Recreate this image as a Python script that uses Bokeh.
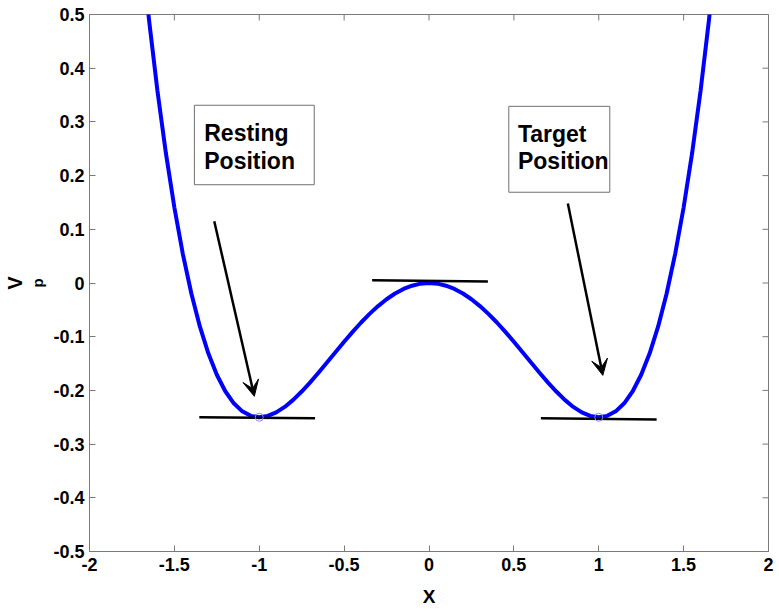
from bokeh.plotting import figure
from bokeh.models import (ColumnDataSource, FixedTicker, Arrow, VeeHead, LinearAxis)
from bokeh.core.properties import value
from bokeh.embed import file_html
from bokeh.resources import INLINE

FONT = "Liberation Sans"

# ---- data ----
curve_x = [-1.70, -1.65, -1.60, -1.55, -1.50, -1.45, -1.40, -1.35, -1.30, -1.25,
           -1.20, -1.15, -1.10, -1.05, -1.00, -0.95, -0.90, -0.85, -0.80, -0.75,
           -0.70, -0.65, -0.60, -0.55, -0.50, -0.45, -0.40, -0.35, -0.30, -0.25,
           -0.20, -0.15, -0.10, -0.05, 0.00, 0.05, 0.10, 0.15, 0.20, 0.25,
           0.30, 0.35, 0.40, 0.45, 0.50, 0.55, 0.60, 0.65, 0.70, 0.75,
           0.80, 0.85, 0.90, 0.95, 1.00, 1.05, 1.10, 1.15, 1.20, 1.25,
           1.30, 1.35, 1.40, 1.45, 1.50, 1.55, 1.60, 1.65, 1.70]
curve_v = [0.6430, 0.4918, 0.3584, 0.2418, 0.1406, 0.0539, -0.0196, -0.0809, -0.1310, -0.1709,
           -0.2016, -0.2240, -0.2390, -0.2474, -0.2500, -0.2476, -0.2410, -0.2308, -0.2176, -0.2021,
           -0.1850, -0.1666, -0.1476, -0.1284, -0.1094, -0.0910, -0.0736, -0.0575, -0.0430, -0.0303,
           -0.0196, -0.0111, -0.0050, -0.0012, 0.0000, -0.0012, -0.0050, -0.0111, -0.0196, -0.0303,
           -0.0430, -0.0575, -0.0736, -0.0910, -0.1094, -0.1284, -0.1476, -0.1666, -0.1850, -0.2021,
           -0.2176, -0.2308, -0.2410, -0.2476, -0.2500, -0.2474, -0.2390, -0.2240, -0.2016, -0.1709,
           -0.1310, -0.0809, -0.0196, 0.0539, 0.1406, 0.2418, 0.3584, 0.4918, 0.6430]

min_x = [-1.0, 1.0]
min_v = [-0.25, -0.25]

tan_x0 = [-1.353, -0.335, 0.659]
tan_y0 = [-0.250, 0.005, -0.252]
tan_x1 = [-0.671, 0.347, 1.341]
tan_y1 = [-0.252, 0.003, -0.254]

arrow_x0 = [-1.265, 0.818]
arrow_y0 = [0.115, 0.148]
arrow_x1 = [-1.029, 1.024]
arrow_y1 = [-0.211, -0.172]

box_left = [-1.382, 0.470]
box_right = [-0.676, 1.065]
box_top = [0.331, 0.329]
box_bottom = [0.183, 0.169]

note_text = ["Resting", "Position", "Target", "Position"]
note_x = [-1.324, -1.324, 0.524, 0.524]
note_y = [0.280, 0.228, 0.278, 0.228]

x_ticks = [-2, -1.5, -1, -0.5, 0, 0.5, 1, 1.5, 2]
x_tick_labels = ["-2", "-1.5", "-1", "-0.5", "0", "0.5", "1", "1.5", "2"]
y_ticks = [-0.5, -0.4, -0.3, -0.2, -0.1, 0, 0.1, 0.2, 0.3, 0.4, 0.5]
y_tick_labels = ["-0.5", "-0.4", "-0.3", "-0.2", "-0.1", "0", "0.1", "0.2", "0.3", "0.4", "0.5"]

X_MIN, X_MAX = -2, 2
Y_MIN, Y_MAX = -0.5, 0.5

# ---- figure ----
p = figure(width=779, height=614, x_range=(X_MIN, X_MAX), y_range=(Y_MIN, Y_MAX),
           output_backend="svg", toolbar_location=None,
           min_border_left=88, min_border_right=11, min_border_top=14,
           min_border_bottom=63)
p.grid.visible = False
AX = "#7a7a7a"
p.outline_line_color = AX
p.background_fill_color = "white"
p.border_fill_color = "white"

for ax in (p.xaxis[0], p.yaxis[0]):
    ax.axis_line_color = AX
    ax.major_tick_line_color = AX
    ax.minor_tick_line_color = None
    ax.major_tick_in = 6
    ax.major_tick_out = 0
    ax.major_label_text_font = FONT
    ax.major_label_text_font_style = "bold"
    ax.major_label_text_font_size = "18px"
    ax.major_label_text_color = "black"

p.xaxis.ticker = FixedTicker(ticks=x_ticks)
p.xaxis.major_label_overrides = dict(zip(x_ticks, x_tick_labels))
p.yaxis.ticker = FixedTicker(ticks=y_ticks)
p.yaxis.major_label_overrides = dict(zip(y_ticks, y_tick_labels))
p.xaxis.major_label_standoff = 6
p.yaxis.major_label_standoff = 5

p.xaxis.axis_label = "X"
p.xaxis.axis_label_text_font = FONT
p.xaxis.axis_label_text_font_style = "bold"
p.xaxis.axis_label_text_font_size = "19px"
p.xaxis.axis_label_text_color = "black"
p.xaxis.axis_label_standoff = 12


def title_axis(text, size, standoff, align):
    ax = LinearAxis(ticker=FixedTicker(ticks=[]), axis_label=text)
    ax.axis_line_color = None
    ax.major_tick_line_color = None
    ax.minor_tick_line_color = None
    ax.major_tick_in = 0
    ax.major_tick_out = 0
    ax.major_label_standoff = 0
    ax.axis_label_standoff = standoff
    ax.axis_label_text_font = FONT
    ax.axis_label_text_font_style = "bold"
    ax.axis_label_text_font_size = size
    ax.axis_label_text_color = "black"
    ax.axis_label_text_align = align
    return ax


# y axis title V_p: subscript p sits next to the tick labels (a bit higher), V further out
p.add_layout(title_axis("p", "15px", 5, "right"), "left")
p.add_layout(title_axis("V", "20px", 0, "left"), "left")

# inward ticks on the top and right edges of the box
tick_len_y = 6 / 537
tick_len_x = 6 / 170
p.segment(x0=x_ticks, y0=[Y_MAX] * len(x_ticks), x1=x_ticks,
          y1=[Y_MAX - tick_len_y] * len(x_ticks), line_color=AX, line_width=1)
p.segment(x0=[X_MAX] * len(y_ticks), y0=y_ticks, x1=[X_MAX - tick_len_x] * len(y_ticks),
          y1=y_ticks, line_color=AX, line_width=1)

# curve
p.line(curve_x, curve_v, line_color="#0000FF", line_width=4)

# tangent lines
p.segment(x0=tan_x0, y0=tan_y0, x1=tan_x1, y1=tan_y1,
          line_color="black", line_width=2.5)

# minimum markers
p.scatter(min_x, min_v, marker="circle", size=8, fill_color=None,
          line_color="#8a8aff", line_width=1)

# arrows
arrow_src = ColumnDataSource(dict(x0=arrow_x0, y0=arrow_y0, x1=arrow_x1, y1=arrow_y1))
p.add_layout(Arrow(end=VeeHead(size=16, fill_color="black", line_color="black"),
                   source=arrow_src, x_start="x0", y_start="y0",
                   x_end="x1", y_end="y1", line_color="black", line_width=2.5))

# annotation boxes
p.quad(left=box_left, right=box_right, top=box_top, bottom=box_bottom,
       fill_color="white", line_color="#707070", line_width=1)
p.text(x=note_x, y=note_y, text=note_text, text_font=value(FONT),
       text_font_style="bold", text_font_size="23px", text_color="black",
       text_baseline="alphabetic", text_align="left")

open("out.html", "w").write(file_html(p, INLINE))
